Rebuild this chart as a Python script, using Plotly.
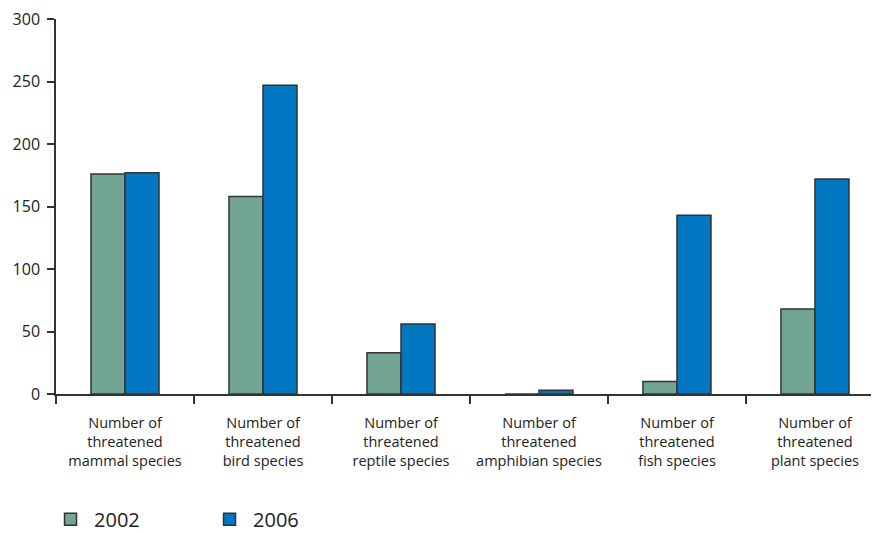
import plotly.graph_objects as go

categories = [
    "Number of<br>threatened<br>mammal species",
    "Number of<br>threatened<br>bird species",
    "Number of<br>threatened<br>reptile species",
    "Number of<br>threatened<br>amphibian species",
    "Number of<br>threatened<br>fish species",
    "Number of<br>threatened<br>plant species",
]
values_2002 = [176, 158, 33, 0, 10, 68]
values_2006 = [177, 247, 56, 3, 143, 172]
y_ticks = [0, 50, 100, 150, 200, 250, 300]

font_family = "Open Sans, Noto Sans, sans-serif"
line_col = "#333333"

fig = go.Figure()
fig.add_trace(go.Bar(
    name="2002", x=categories, y=values_2002,
    marker=dict(color="#72A594", line=dict(color=line_col, width=1.5)),
))
fig.add_trace(go.Bar(
    name="2006", x=categories, y=values_2006,
    marker=dict(color="#0077C0", line=dict(color=line_col, width=1.5)),
))

fig.update_layout(
    width=871, height=525,
    margin=dict(l=48, r=0, t=11, b=139, autoexpand=False),
    paper_bgcolor="white", plot_bgcolor="white",
    barmode="group", bargap=0.507, bargroupgap=0,
    font=dict(family=font_family, size=15, color="#222222"),
    showlegend=True,
    legend=dict(
        orientation="h",
        xref="container", yref="container",
        x=0.0448, xanchor="left", y=0.026, yanchor="middle",
        font=dict(size=20, color="#222222"),
        entrywidth=107, entrywidthmode="pixels",
        itemwidth=37, traceorder="normal",
    ),
    xaxis=dict(
        range=[-0.5, 5.464], automargin=False, tickangle=0,
        showline=True, linecolor=line_col, linewidth=1.5,
        ticks="outside", tickson="boundaries", ticklen=8, tickcolor=line_col, tickwidth=1.5,
        showgrid=False, zeroline=False,
        tickfont=dict(size=14.5, color="#222222"),
        ticklabelstandoff=15,
    ),
    yaxis=dict(
        range=[0, 300], tickvals=y_ticks, automargin=False,
        showline=True, linecolor=line_col, linewidth=1.5,
        ticks="outside", ticklen=7, tickcolor=line_col, tickwidth=1.5,
        showgrid=False, zeroline=False,
        tickfont=dict(size=16, color="#222222"),
        ticklabelstandoff=4, ticklabeloverflow="allow",
    ),
)

fig.write_html("out.html")
